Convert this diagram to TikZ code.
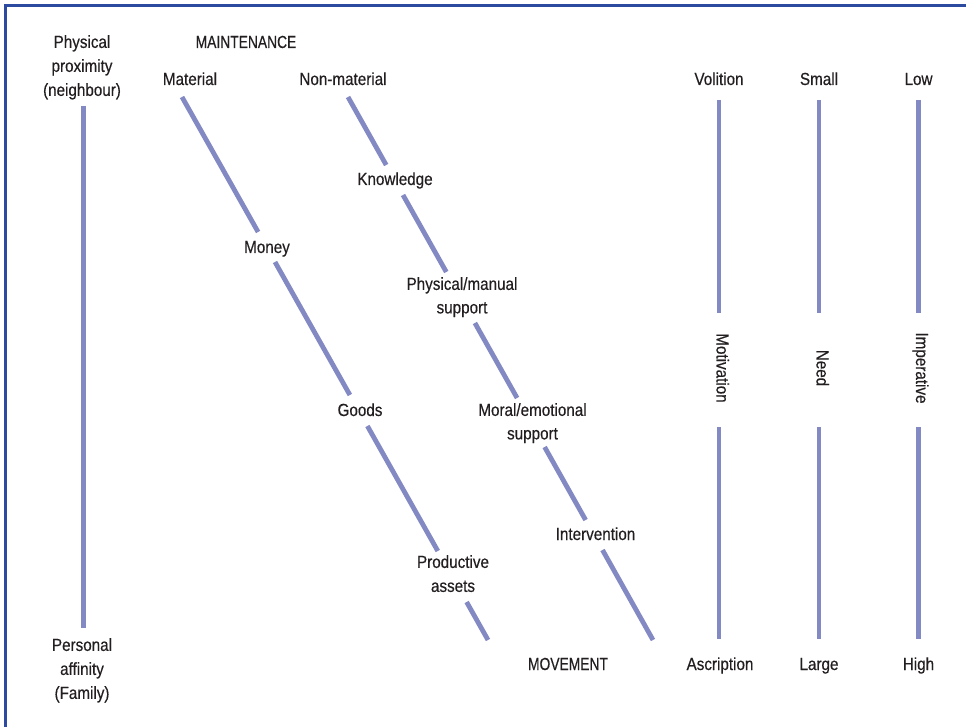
\documentclass[tikz,border=0pt]{standalone}
\usepackage{fontspec}
\setmainfont{Liberation Sans}[FakeStretch=0.87,FakeBold=0.4]
\newfontfamily\capsfont{Liberation Sans}[FakeStretch=0.79,FakeBold=0.4]
\definecolor{txt}{HTML}{231F20}
\definecolor{bar}{HTML}{8389C3}
\definecolor{frame}{HTML}{2B4AA0}
\begin{document}
\begin{tikzpicture}[x=1pt,y=-1pt,
  lbl/.style={inner sep=0pt, text=txt, font=\fontsize{17.5}{24}\selectfont},
  caps/.style={lbl, font=\capsfont\fontsize{17.5}{24}\selectfont},
  multi/.style={lbl, align=center, anchor=north},
  single/.style={lbl, anchor=base},
  vert/.style={lbl, anchor=base, rotate=-90},
  barline/.style={draw=bar, line width=4.8pt},
  framebox/.style={draw=frame, line width=2.6pt}]
\useasboundingbox (0,0) rectangle (966,727);
% frame (only top and left edges are inside the picture)
\draw[framebox] (5.5,740) -- (5.5,5.5) -- (980,5.5);

% ---- left column ----
\node[multi] (prox) at (82,35) {Physical\\proximity\\(neighbour)};
\node[multi] (aff) at (82,638) {Personal\\affinity\\(Family)};
\coordinate (p0) at (83.5,106);
\coordinate (p1) at (83.5,628);
\draw[barline] (p0) -- (p1);

% ---- maintenance / movement ----
\node[caps, anchor=base] (maint) at (246,48) {MAINTENANCE};
\node[caps, anchor=base] (move) at (568,670) {MOVEMENT};

% material line
\node[single] (mat) at (190,85) {Material};
\node[single] (money) at (267,253) {Money};
\node[single] (goods) at (360,416) {Goods};
\node[multi] (assets) at (453,555) {Productive\\assets};
\coordinate (ma0) at (182,97);
\coordinate (ma1) at (258.1,232);
\coordinate (ma2) at (275.0,262);
\coordinate (ma3) at (349.9,395);
\coordinate (ma4) at (367.4,426);
\coordinate (ma5) at (437.8,551);
\coordinate (ma6) at (466.6,602);
\coordinate (ma7) at (488,640);
\draw[barline] (ma0) -- (ma1);
\draw[barline] (ma2) -- (ma3);
\draw[barline] (ma4) -- (ma5);
\draw[barline] (ma6) -- (ma7);

% non-material line
\node[single] (nonmat) at (343,85) {Non-material};
\node[single] (know) at (395,185) {Knowledge};
\node[multi, font=\fontsize{17.5}{23.5}\selectfont] (phys) at (462,277) {Physical/manual\\support};
\node[multi, font=\fontsize{17.5}{23.5}\selectfont] (moral) at (532.5,403) {Moral/emotional\\support};
\node[single] (interv) at (595.5,540) {Intervention};
\coordinate (n0) at (348,97);
\coordinate (n1) at (386.2,165);
\coordinate (n2) at (403.0,195);
\coordinate (n3) at (446.3,272);
\coordinate (n4) at (474.9,323);
\coordinate (n5) at (517.1,398);
\coordinate (n6) at (544.6,447);
\coordinate (n7) at (585.6,520);
\coordinate (n8) at (602.5,550);
\coordinate (n9) at (653,640);
\draw[barline] (n0) -- (n1);
\draw[barline] (n2) -- (n3);
\draw[barline] (n4) -- (n5);
\draw[barline] (n6) -- (n7);
\draw[barline] (n8) -- (n9);

% ---- right columns ----
\node[single] (vol) at (719,85) {Volition};
\node[single] (small) at (819,85) {Small};
\node[single] (low) at (918.5,85) {Low};
\node[single] (ascr) at (720,670) {Ascription};
\node[single] (large) at (819,670) {Large};
\node[single] (high) at (918.5,670) {High};
\node[vert] (motiv) at (716.5,368) {Motivation};
\node[vert] (need) at (816.5,368) {Need};
\node[vert] (imper) at (916,368) {Imperative};

\coordinate (a0) at (719,100);   \coordinate (a1) at (719,313);
\coordinate (a2) at (719,427);   \coordinate (a3) at (719,639);
\coordinate (b0) at (819,100);   \coordinate (b1) at (819,313);
\coordinate (b2) at (819,427);   \coordinate (b3) at (819,639);
\coordinate (c0) at (918.5,100); \coordinate (c1) at (918.5,313);
\coordinate (c2) at (918.5,427); \coordinate (c3) at (918.5,639);
\draw[barline] (a0) -- (a1);
\draw[barline] (a2) -- (a3);
\draw[barline] (b0) -- (b1);
\draw[barline] (b2) -- (b3);
\draw[barline] (c0) -- (c1);
\draw[barline] (c2) -- (c3);
\end{tikzpicture}
\end{document}
